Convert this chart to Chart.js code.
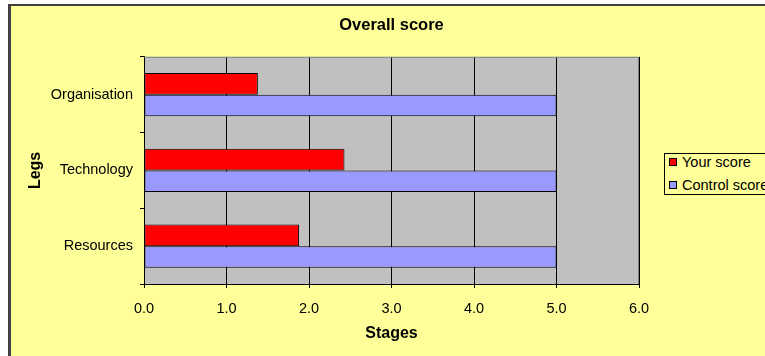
<!DOCTYPE html>
<html>
<head>
<meta charset="utf-8">
<script src="https://cdn.jsdelivr.net/npm/chart.js@4.4.0/dist/chart.umd.min.js"></script>
<style>
  html, body { margin: 0; padding: 0; background: #fff; width: 765px; height: 356px; overflow: hidden; }
  #frame { position: absolute; left: 8px; top: 4px; width: 800px; height: 400px; background: #FFFF99;
           border-left: 3px solid #404040; border-top: 2px solid #404040; }
  #wrap { position: absolute; left: 0; top: 0; width: 765px; height: 356px; }
  #legend { position: absolute; left: 664px; top: 153px; width: 130px; height: 40px; border: 1px solid #000;
            background: #FFFF99; font: 14.5px "Liberation Sans", Arial, sans-serif; color: #000; }
  #legend div { position: absolute; left: 4px; white-space: nowrap; height: 18px; line-height: 18px; }
  #legend span { display: inline-block; width: 6px; height: 6px; border: 1px solid #000; margin-right: 5px; vertical-align: 1px; }
</style>
</head>
<body>
<div id="frame"></div>
<div id="wrap"><canvas id="chart" width="765" height="356"></canvas></div>
<div id="legend"></div>
<script>
// data
const legs = ['Organisation', 'Technology', 'Resources'];
const yourScore = [1.38, 2.43, 1.88];
const controlScore = [5.0, 5.0, 5.0];
const seriesNames = ['Your score', 'Control score'];
const seriesColors = ['#FF0000', '#9999FF'];
const stageTicks = [0, 1, 2, 3, 4, 5, 6];

const FONT = '"Liberation Sans", Arial, sans-serif';

// grey plot area like the excel one, with the light top/right border
const plotBg = {
  id: 'plotBg',
  beforeDraw(chart) {
    const { ctx, chartArea: a } = chart;
    ctx.save();
    ctx.fillStyle = '#C0C0C0';
    ctx.fillRect(a.left, a.top, a.right - a.left, a.bottom - a.top);
    ctx.restore();
  },
  afterDraw(chart) {
    const { ctx, chartArea: a } = chart;
    ctx.save();
    ctx.strokeStyle = '#808080';
    ctx.lineWidth = 1;
    ctx.beginPath();
    ctx.moveTo(a.left, a.top + 0.5);
    ctx.lineTo(a.right - 0.5, a.top + 0.5);
    ctx.lineTo(a.right - 0.5, a.bottom);
    ctx.stroke();
    ctx.restore();
  }
};

const chart = new Chart(document.getElementById('chart').getContext('2d'), {
  type: 'bar',
  data: {
    labels: legs,
    datasets: [
      { label: seriesNames[0], data: yourScore, backgroundColor: seriesColors[0] },
      { label: seriesNames[1], data: controlScore, backgroundColor: seriesColors[1] }
    ]
  },
  options: {
    indexAxis: 'y',
    responsive: false,
    animation: false,
    devicePixelRatio: 1,
    layout: { padding: { left: 26, right: 126, top: 0, bottom: 13 } },
    datasets: {
      bar: { categoryPercentage: 0.57, barPercentage: 1, borderWidth: 1, borderColor: '#000', borderSkipped: false }
    },
    plugins: {
      legend: { display: false },
      tooltip: { enabled: false },
      title: {
        display: true, text: 'Overall score', fullSize: false, color: '#000',
        font: { family: FONT, size: 16.5, weight: 'bold' },
        padding: { top: 16, bottom: 21 }
      }
    },
    scales: {
      x: {
        min: 0, max: 6,
        afterBuildTicks: s => { s.ticks = stageTicks.map(v => ({ value: v })); },
        afterFit: s => { s.paddingLeft = 0; s.paddingRight = 0; s.height = 59; },
        ticks: { color: '#000', font: { family: FONT, size: 14.5 }, padding: 12, maxRotation: 0,
                 callback: v => Number(v).toFixed(1) },
        grid: { color: '#000', lineWidth: 1, tickLength: 4, tickColor: '#000' },
        border: { color: '#000', width: 1 },
        title: { display: true, text: 'Stages', color: '#000', padding: 0,
                 font: { family: FONT, size: 16, weight: 'bold' } }
      },
      y: {
        afterFit: s => { s.width = 118; },
        ticks: { color: '#000', font: { family: FONT, size: 14.5 }, padding: 7 },
        grid: { drawOnChartArea: false, tickLength: 4, tickColor: '#000' },
        border: { color: '#000', width: 1 },
        title: { display: true, text: 'Legs', color: '#000', padding: 0,
                 font: { family: FONT, size: 16, weight: 'bold' } }
      }
    }
  },
  plugins: [plotBg]
});

// legend box built from the series arrays
const legendEl = document.getElementById('legend');
seriesNames.forEach((name, i) => {
  const row = document.createElement('div');
  row.style.top = (i === 0 ? -1 : 22) + 'px';
  row.innerHTML = `<span style="background:${seriesColors[i]}"></span>${name}`;
  legendEl.appendChild(row);
});
</script>
</body>
</html>
